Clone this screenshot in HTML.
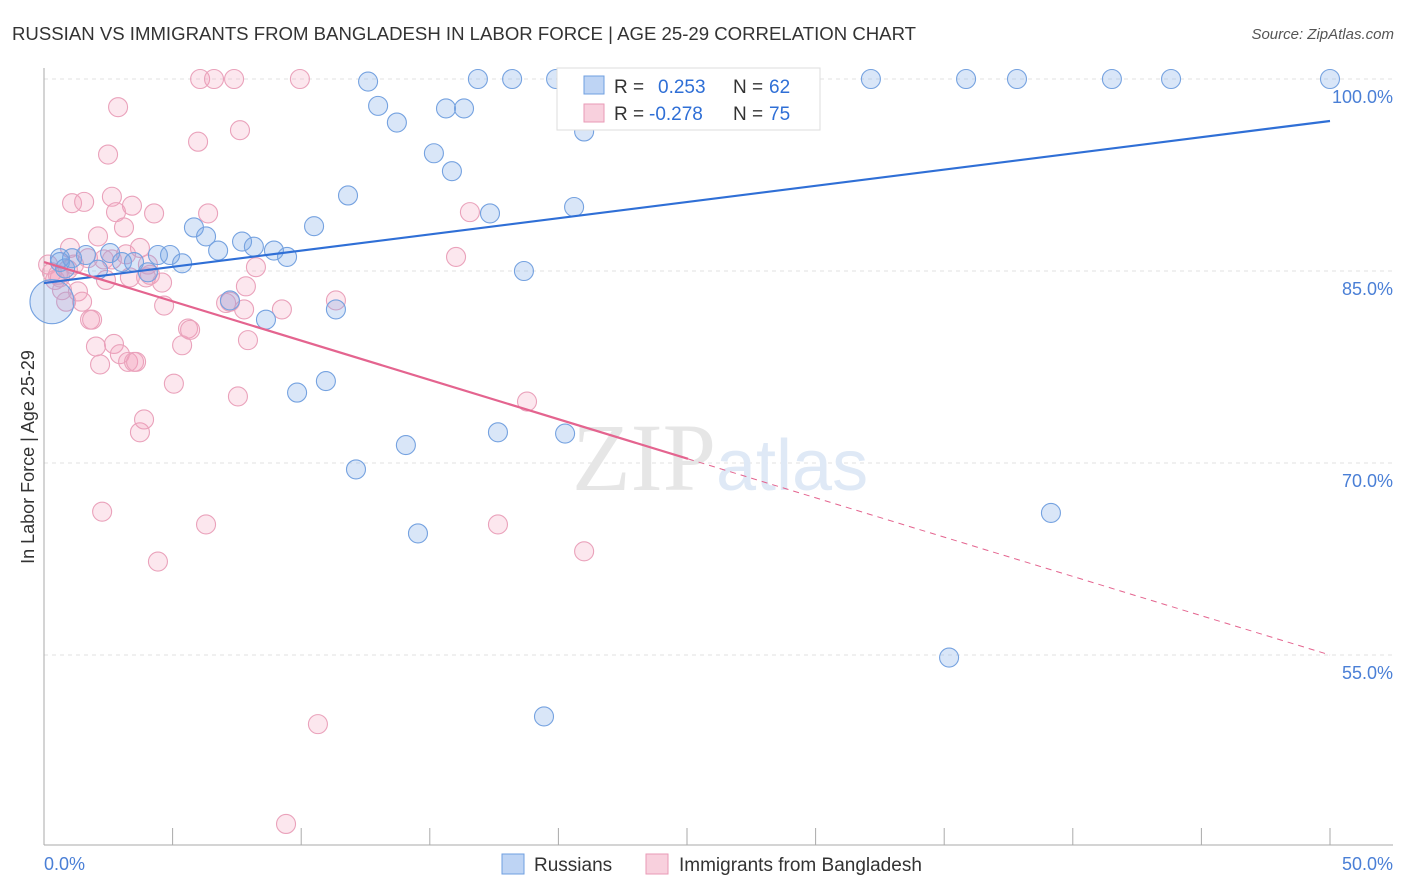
<!DOCTYPE html>
<html><head><meta charset="utf-8"><style>
body{margin:0;background:#fff;font-family:"Liberation Sans",sans-serif;}
#wrap{position:relative;width:1406px;height:892px;overflow:hidden}
</style></head><body>
<div id="wrap">
<svg id="svg" width="1406" height="892" xmlns="http://www.w3.org/2000/svg"></svg>
</div>
<script>
const blueX=[0.31,0.62,1.09,1.63,2.10,2.57,3.03,3.50,4.04,4.43,4.90,5.37,5.83,6.30,6.77,7.23,7.70,8.16,8.63,8.94,9.45,9.84,10.50,10.96,11.35,11.82,12.13,12.60,12.99,13.72,14.07,14.54,15.16,15.63,15.86,16.33,16.87,17.34,17.65,18.20,18.66,19.44,19.91,20.26,20.61,21.00,21.54,22.40,22.63,26.48,28.81,29.28,32.15,35.19,35.85,37.83,39.15,41.52,43.82,50.0,0.62,0.82];
const blueY=[82.6,85.7,86.0,86.25,85.1,86.4,85.7,85.7,84.9,86.25,86.25,85.6,88.4,87.7,86.6,82.7,87.3,86.9,81.2,86.6,86.1,75.5,88.5,76.4,82.0,90.9,69.5,99.8,97.9,96.6,71.4,64.5,94.2,97.7,92.8,97.7,100,89.5,72.4,100,85.0,50.2,100,72.3,90.0,95.9,100,100,100,100,100,100,100,54.8,100,100,66.1,100,100,100,86.0,85.2];
const pinkX=[0.16,0.31,0.43,0.54,0.70,0.86,1.01,1.09,1.17,1.32,1.48,1.56,1.71,1.79,1.87,2.02,2.10,2.18,2.26,2.33,2.41,2.49,2.64,2.72,2.80,2.88,2.95,3.11,3.19,3.27,3.34,3.42,3.50,3.58,3.73,3.89,3.97,4.04,4.12,4.28,4.43,4.59,4.67,5.05,5.37,5.60,5.68,5.99,6.07,6.30,6.38,6.61,7.08,7.39,7.54,7.62,7.78,7.85,7.93,8.24,9.25,9.41,9.95,10.65,11.35,16.02,16.56,17.65,18.78,21.00,7.23,2.64,0.62,3.73,0.93];
const pinkY=[85.5,84.9,84.3,84.7,83.5,82.6,86.8,90.3,85.5,83.4,82.6,90.4,86.0,81.2,81.2,79.1,87.7,77.7,66.2,85.9,84.3,94.1,90.8,79.3,89.6,97.8,78.5,88.4,86.3,77.9,84.5,90.1,77.9,77.9,72.4,73.4,84.5,85.5,84.7,89.5,62.3,84.1,82.3,76.2,79.2,80.5,80.4,95.1,100,65.2,89.5,100,82.5,100,75.2,96.0,82.0,83.8,79.6,85.3,82.0,41.8,100,49.6,82.7,86.1,89.6,65.2,74.8,63.1,82.6,85.9,84.5,86.8,85.1];
const yTicks=[100,85,70,55];
const yTickLabels=["100.0%","85.0%","70.0%","55.0%"];
const xTickLabels=["0.0%","50.0%"];
const blueTrend=[84.06,96.72];
const pinkTrend=[85.7,55.0];
const pinkSolidEnd=25.04;

const NS="http://www.w3.org/2000/svg";
const svg=document.getElementById('svg');
const X=v=>44+v*25.72;
const Y=v=>79+(100-v)*12.8;
function mk(t,a,txt){const e=document.createElementNS(NS,t);for(const k in a)e.setAttribute(k,a[k]);if(txt!==undefined)e.textContent=txt;svg.appendChild(e);return e;}

let e=mk('text',{x:12,y:40,'font-size':18.6,fill:'#333'},'RUSSIAN VS IMMIGRANTS FROM BANGLADESH IN LABOR FORCE | AGE 25-29 CORRELATION CHART');


e=mk('text',{x:1394,y:39,'font-size':15,fill:'#555','font-style':'italic','text-anchor':'end'},'Source: ZipAtlas.com');



yTicks.forEach((t,i)=>{
 const g=mk('line',{x1:44,x2:1393,y1:Y(t),y2:Y(t),stroke:'#e2e2e2','stroke-dasharray':'4,4'});
 
 
 const l=mk('text',{x:1393,y:Y(t)+24,'font-size':18,fill:'#4a7fd6','text-anchor':'end'},yTickLabels[i]);
 
 
});
e=mk('line',{x1:44,x2:44,y1:68,y2:845,stroke:'#aaa'});


e=mk('line',{x1:44,x2:1393,y1:845,y2:845,stroke:'#aaa'});


for(let k=1;k<=10;k++){
 const t=mk('line',{x1:X(k*5),x2:X(k*5),y1:828,y2:845,stroke:'#aaa'});
 
 
}
e=mk('text',{x:44,y:870,'font-size':18,fill:'#4a7fd6'},xTickLabels[0]);


e=mk('text',{x:1393,y:870,'font-size':18,fill:'#4a7fd6','text-anchor':'end'},xTickLabels[1]);


e=mk('text',{x:34,y:457,'font-size':18,fill:'#333','text-anchor':'middle',transform:'rotate(-90 34 457)'},'In Labor Force | Age 25-29');



e=mk('text',{x:716,y:490,'font-size':96,fill:'#e6e6e6','font-family':'Liberation Serif, serif','text-anchor':'end'},'ZIP');


e=mk('text',{x:716,y:490,'font-size':72,fill:'#dfe9f6'},'atlas');



pinkX.forEach((x,i)=>{
 const c=mk('circle',{cx:X(x),cy:Y(pinkY[i]),r:9.5,fill:'rgba(242,160,188,0.25)',stroke:'#eaa2bb','stroke-width':1.1});
 
 
});
blueX.forEach((x,i)=>{
 const c=mk('circle',{cx:X(x),cy:Y(blueY[i]),r:i===0?22:9.5,fill:'rgba(120,165,230,0.28)',stroke:'#75a2e0','stroke-width':1.1});
 
 
});
e=mk('line',{x1:X(0),y1:Y(blueTrend[0]),x2:X(50),y2:Y(blueTrend[1]),stroke:'#2f6fd6','stroke-width':2.2});


const pAt=x=>pinkTrend[0]+(pinkTrend[1]-pinkTrend[0])*x/50;
e=mk('line',{x1:X(0),y1:Y(pinkTrend[0]),x2:X(pinkSolidEnd),y2:Y(pAt(pinkSolidEnd)),stroke:'#e4648f','stroke-width':2.2});


e=mk('line',{x1:X(pinkSolidEnd),y1:Y(pAt(pinkSolidEnd)),x2:X(50),y2:Y(pinkTrend[1]),stroke:'#e4648f','stroke-width':1,'stroke-dasharray':'6,5'});



e=mk('rect',{x:557,y:68,width:263,height:62,fill:'#fff',stroke:'#ddd'});


e=mk('rect',{x:584,y:76,width:20,height:18,fill:'rgba(110,160,230,0.45)',stroke:'#6f9fe0'});


e=mk('rect',{x:584,y:104,width:20,height:18,fill:'rgba(240,150,180,0.45)',stroke:'#e99ab6'});


[['R = ',614,93,'#333'],['0.253',658,93,'#2f6fd6'],['N = ',733,93,'#333'],['62',769,93,'#2f6fd6'],
 ['R = ',614,120,'#333'],['-0.278',649,120,'#2f6fd6'],['N = ',733,120,'#333'],['75',769,120,'#2f6fd6']].forEach(a=>{
 const t=mk('text',{x:a[1],y:a[2],'font-size':19,fill:a[3]},a[0]);
 
 
});

e=mk('rect',{x:502,y:854,width:22,height:20,fill:'rgba(110,160,230,0.45)',stroke:'#6f9fe0'});


e=mk('text',{x:534,y:871,'font-size':19,fill:'#333'},'Russians');


e=mk('rect',{x:646,y:854,width:22,height:20,fill:'rgba(240,150,180,0.45)',stroke:'#e99ab6'});


e=mk('text',{x:679,y:871,'font-size':19,fill:'#333'},'Immigrants from Bangladesh');


</script>
</body></html>
